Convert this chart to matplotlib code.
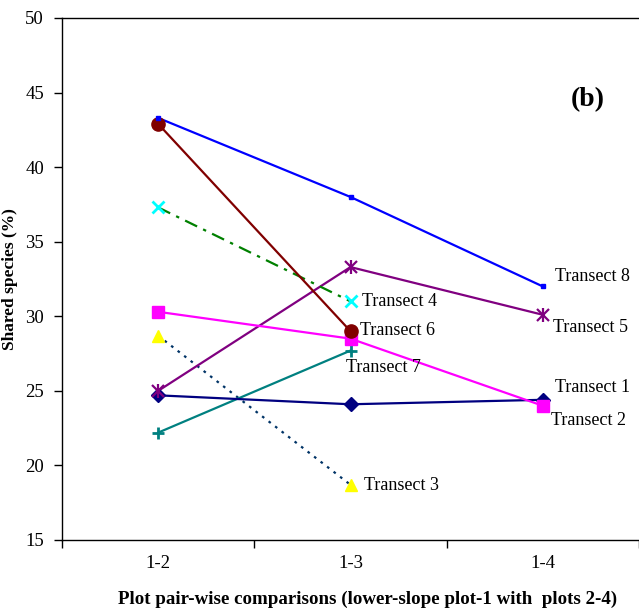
import matplotlib
matplotlib.use("Agg")
import matplotlib.pyplot as plt

plt.rcParams["font.family"] = ["Liberation Serif", "DejaVu Serif"]

# pair-wise comparisons of lower-slope plot 1 with plots 2-4
comparisons = ["1-2", "1-3", "1-4"]

transect_1 = [24.7, 24.1, 24.4]
transect_2 = [30.3, 28.5, 24.0]
transect_3 = [28.7, 18.7]
transect_4 = [37.3, 31.0]
transect_5 = [25.0, 33.3, 30.1]
transect_6 = [42.9, 29.0]
transect_7 = [22.2, 27.7]
transect_8 = [43.3, 38.0, 32.0]

# name, values, line colour, line style, marker, marker colour, marker size, label offset (px)
series = [
    ("Transect 3", transect_3, "#003366", (0, (1.2, 2.5)), "^", "#FFFF00", 9, (13, -1)),
    ("Transect 7", transect_7, "#008080", "-", "+", "#008080", 9, (-4, -17)),
    ("Transect 1", transect_1, "#000080", "-", "D", "#000080", 7.5, (12, 12)),
    ("Transect 5", transect_5, "#800080", "-", "*", "#800080", 0, (10, -13)),
    ("Transect 2", transect_2, "#FF00FF", "-", "s", "#FF00FF", 8.5, (8, -15)),
    ("Transect 4", transect_4, "#008000", (0, (6, 3, 1.5, 3)), "x", "#00FFFF", 8, (11, 0)),
    ("Transect 6", transect_6, "#800000", "-", "o", "#800000", 9.5, (9, 1)),
    ("Transect 8", transect_8, "#0000FF", "-", "s", "#0000FF", 3.5, (12, 10)),
]

fig = plt.figure(figsize=(6.39, 6.10), dpi=100)
ax = fig.add_axes([62 / 639, 1 - 540 / 610, 1 - 62 / 639, (540 - 18) / 610])

for name, vals, lc, ls, mk, mc, ms, off in series:
    xs = list(range(len(vals)))
    ax.plot(xs, vals, color=lc, linestyle=ls, linewidth=1.6, zorder=2)
    if mk == "*":
        # asterisk: overlay an x and a vertical bar
        ax.plot(xs, vals, linestyle="none", marker="x", color=mc, markersize=8, mew=1.6, zorder=3)
        ax.plot(xs, vals, linestyle="none", marker="|", color=mc, markersize=10, mew=1.6, zorder=3)
    else:
        ax.plot(xs, vals, linestyle="none", marker=mk, markersize=ms,
                markerfacecolor=mc, markeredgecolor=mc,
                mew=2 if mk in "x+" else 1, zorder=3)
    ax.annotate(name, (xs[-1], vals[-1]), xytext=off, textcoords="offset pixels",
                ha="left", va="center", fontsize=13)

ax.set_ylim(15, 50)
ax.set_xlim(-0.5, 2.46)
ax.set_yticks(range(15, 51, 5))
ax.set_xticks(range(len(comparisons)))
ax.set_xticklabels(comparisons)
ax.set_xticks([-0.5, 0.5, 1.5, 2.5], minor=True)
ax.tick_params(axis="x", which="major", length=0, pad=11, labelsize=13.5)
ax.tick_params(axis="x", which="minor", length=6, width=1, direction="out")
ax.tick_params(axis="y", length=6, width=1, direction="out", pad=7, labelsize=13.5)

ax.spines["right"].set_visible(False)
for s in ["left", "bottom", "top"]:
    ax.spines[s].set_linewidth(1)

ax.set_ylabel("Shared species (%)", fontsize=12.5, fontweight="bold")
ax.yaxis.set_label_coords(-0.076, 0.5)
ax.set_xlabel("Plot pair-wise comparisons (lower-slope plot-1 with  plots 2-4)",
              fontsize=13.6, fontweight="bold")
ax.xaxis.set_label_coords(0.529, -0.097)

ax.text(0.912, 0.843, "(b)", transform=ax.transAxes, ha="center", va="center",
        fontsize=20, fontweight="bold")

fig.savefig("out.png", dpi=100)
